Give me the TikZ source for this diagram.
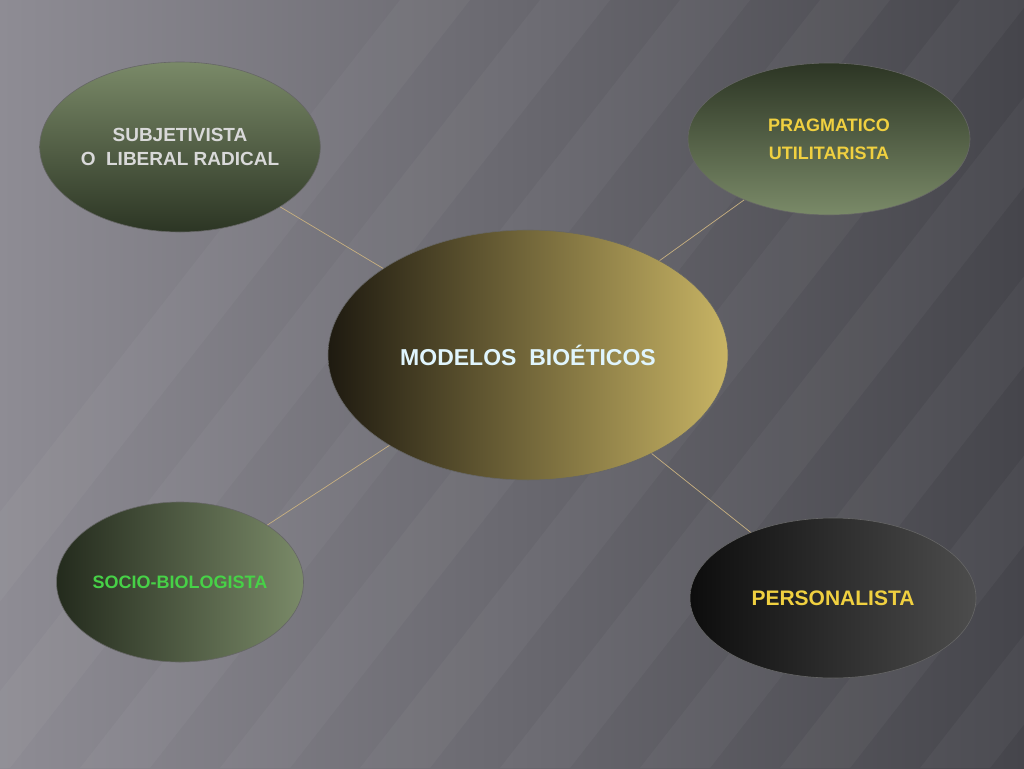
\documentclass[tikz,border=0pt]{standalone}
\usepackage{fontspec}
\setmainfont{Liberation Sans}
\usetikzlibrary{shapes.geometric,shadings}
\definecolor{bgA}{HTML}{8E8C94}
\definecolor{bgB}{HTML}{45454B}
\definecolor{gnA}{HTML}{7A8A68}
\definecolor{gnB}{HTML}{2C3524}
\definecolor{gold}{HTML}{C8B464}
\definecolor{goldD}{HTML}{1E1A10}
\definecolor{ytxt}{HTML}{F0D040}
\definecolor{linkc}{HTML}{C8B080}
\begin{document}
\begin{tikzpicture}[x=1pt,y=-1pt,
  bub/.style={ellipse,draw=black!60,line width=0.6pt,font=\bfseries,align=center,inner sep=0pt},
  link/.style={draw=linkc,line width=0.7pt}]
\useasboundingbox (0,0) rectangle (1024,768);
\shade[shading angle=60,left color=bgA,right color=bgB] (0,0) rectangle (1024,768);
\foreach \i in {0,...,9}{
  \fill[white,opacity=0.035] (-200+\i*140,768) -- (-130+\i*140,768) -- (470+\i*140,0) -- (400+\i*140,0) -- cycle;}
\node[bub,minimum width=236pt,minimum height=170pt,top color=gnA,bottom color=gnB,font=\bfseries\fontsize{19}{24}\selectfont,text=gray!30]
  (sub) at (180,147) {SUBJETIVISTA\\O\ \ LIBERAL RADICAL};
\node[bub,minimum width=282pt,minimum height=152pt,top color=gnB,bottom color=gnA,font=\bfseries\fontsize{18}{28}\selectfont,text=ytxt]
  (pra) at (829,139) {PRAGMATICO\\UTILITARISTA};
\node[bub,minimum width=400pt,minimum height=250pt,shading angle=-60,left color=goldD,right color=gold,font=\bfseries\fontsize{23}{27}\selectfont,text=cyan!12!white]
  (mod) at (528,355) {MODELOS\ \ BIOÉTICOS};
\node[bub,minimum width=236pt,minimum height=160pt,shading angle=-60,left color=gnB!80!black,right color=gnA,font=\bfseries\fontsize{18}{21}\selectfont,text=green!60!gray!90!white]
  (soc) at (180,582) {SOCIO-BIOLOGISTA};
\node[bub,minimum width=286pt,minimum height=160pt,shading angle=-30,left color=black!95,right color=black!70,font=\bfseries\fontsize{21}{25}\selectfont,text=ytxt]
  (per) at (833,598) {PERSONALISTA};
\draw[link] (sub) -- (mod);
\draw[link] (pra) -- (mod);
\draw[link] (soc) -- (mod);
\draw[link] (per) -- (mod);
\end{tikzpicture}
\end{document}
